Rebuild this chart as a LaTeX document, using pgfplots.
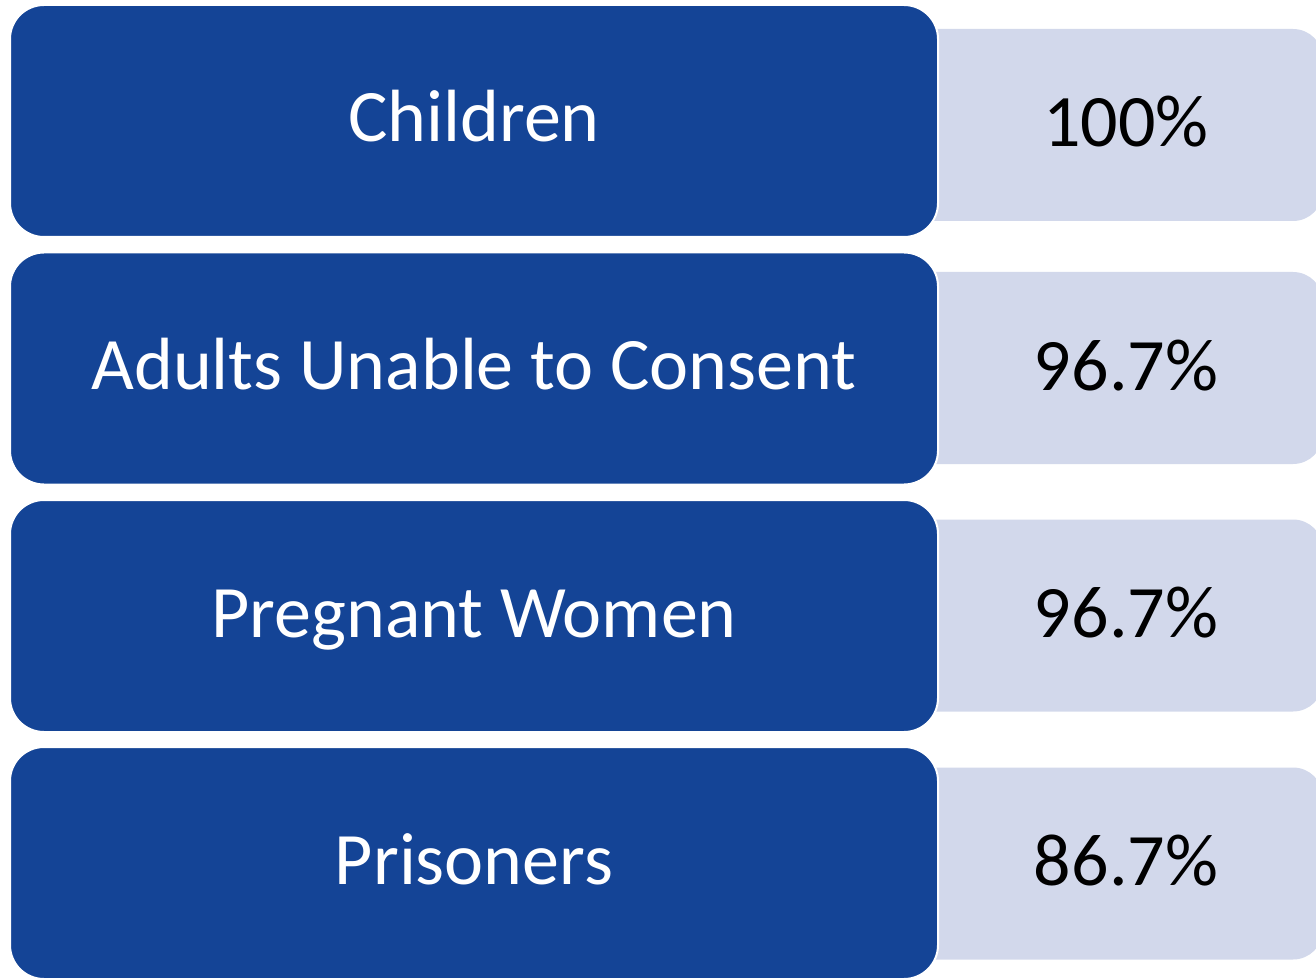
\documentclass[border=0pt]{standalone}
\usepackage{pgfplots}
\pgfplotsset{compat=1.18}
\usepackage{fontspec}
\setmainfont{Carlito}
\definecolor{darkblue}{RGB}{20,68,150}
\definecolor{lightblue}{RGB}{210,216,235}
\begin{document}
\begin{tikzpicture}
\begin{axis}[
  scale only axis, width=658pt, height=489pt,
  xmin=-10, xmax=1306, ymin=0, ymax=978, y dir=reverse,
  hide axis, clip=true,
]
% light value boxes (behind)
\addplot[xbar, bar shift=0pt, bar width=192, fill=lightblue, draw=none, rounded corners=15pt]
  coordinates {(1313,125) (1313,368) (1313,615.5) (1313,863.5)};
% dark category boxes
\addplot[xbar, bar shift=0pt, bar width=232, fill=darkblue, draw=white, line width=1pt, rounded corners=17pt]
  coordinates {(928,121) (928,368.5) (928,616) (928,863)};
% category labels
\addplot[only marks, mark=none, nodes near coords, point meta=explicit symbolic,
  nodes near coords style={anchor=base, text=white, font=\fontsize{37}{45}\selectfont}]
  coordinates {(464,142) [Children] (464,389.5) [Adults Unable to Consent] (464,637) [Pregnant Women] (464,884) [Prisoners]};
% values
\addplot[only marks, mark=none, nodes near coords, point meta=explicit symbolic,
  nodes near coords style={anchor=base, text=black, font=\fontsize{37}{45}\selectfont}]
  coordinates {(1116,147) [100\%] (1116,390) [96.7\%] (1116,637.5) [96.7\%] (1116,885.5) [86.7\%]};
\end{axis}
\pgfresetboundingbox
\path (current axis.south west) rectangle (current axis.north east);
\end{tikzpicture}
\end{document}
